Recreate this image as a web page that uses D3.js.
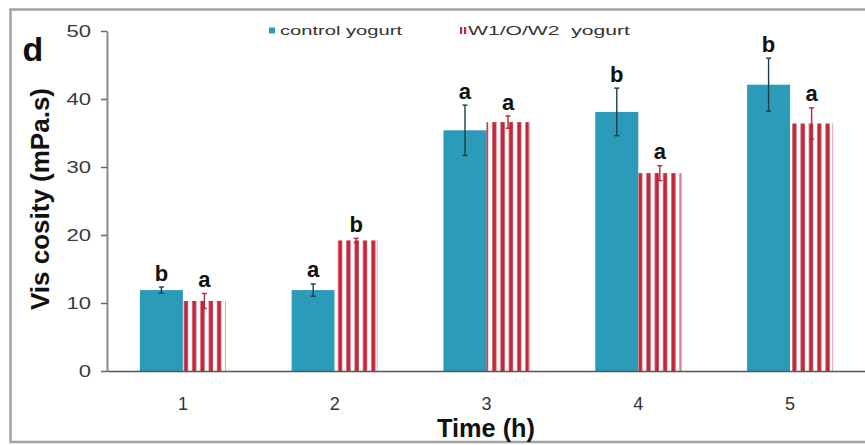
<!DOCTYPE html>
<html>
<head>
<meta charset="utf-8">
<script src="https://cdn.jsdelivr.net/npm/d3@7"></script>
<style>
  html, body { margin: 0; padding: 0; background: #fff; }
  svg { display: block; font-family: "Liberation Sans", Arial, sans-serif; }
</style>
</head>
<body>
<svg id="chart" width="865" height="445"></svg>
<script>
// ---- data ----
const categories = ["1", "2", "3", "4", "5"];
const seriesNames = ["control yogurt", "W1/O/W2  yogurt"];
const controlValues = [11.9, 11.9, 35.4, 38.1, 42.1];
const controlErrors = [0.45, 0.9, 3.7, 3.5, 3.9];
const w1ow2Values = [10.3, 19.2, 36.6, 29.1, 36.4];
const w1ow2Errors = [1.1, 0.3, 0.9, 1.1, 2.3];
const controlLetters = ["b", "a", "a", "b", "b"];
const w1ow2Letters = ["a", "b", "a", "a", "a"];
const yTicks = [0, 10, 20, 30, 40, 50];
const yLabel = "Vis cosity (mPa.s)";
const xLabel = "Time (h)";
const panelLabel = "d";

const TEAL = "#2b9bb9";
const RED = "#c1283b";

const svg = d3.select("#chart");

// frame
svg.append("path")
  .attr("d", "M866,9.5H10.5V442H866")
  .attr("fill", "none").attr("stroke", "#a3a3a3").attr("stroke-width", 2.5);

const x = d3.scaleBand().domain(categories).range([107, 866])
  .paddingInner(0.433).paddingOuter(0.2165);
const xs = d3.scaleBand().domain([0, 1]).range([0, x.bandwidth()]);
const y = d3.scaleLinear().domain([0, 50]).range([371, 31]);

const rows = categories.map((c, i) => ({
  cat: c, i,
  bars: [
    { s: 0, v: controlValues[i], e: controlErrors[i], l: controlLetters[i] },
    { s: 1, v: w1ow2Values[i], e: w1ow2Errors[i], l: w1ow2Letters[i] }
  ]
}));

// patterns for striped bars
const defs = svg.append("defs");
rows.forEach(r => {
  const bx = x(r.cat) + xs(1);
  const p = defs.append("pattern")
    .attr("id", "stripe" + r.i)
    .attr("patternUnits", "userSpaceOnUse")
    .attr("x", bx).attr("y", 0)
    .attr("width", 8.3).attr("height", 445);
  p.append("rect").attr("width", 8.3).attr("height", 445).attr("fill", "#fff");
  p.append("rect").attr("x", 2.2).attr("width", 4.1).attr("height", 445).attr("fill", RED);
});

// y axis
const yAxis = svg.append("g")
  .attr("transform", "translate(107,0)")
  .call(d3.axisLeft(y).tickValues(yTicks).tickSize(6).tickPadding(10).tickSizeOuter(0));
yAxis.select(".domain").attr("stroke", "#8a8a8a").attr("stroke-width", 2);
yAxis.selectAll(".tick line").attr("stroke", "#666").attr("stroke-width", 1.5);
yAxis.selectAll(".tick text")
  .attr("font-size", 16).attr("fill", "#3a3a3a")
  .attr("font-family", "Liberation Sans, Arial, sans-serif")
  .each(function () {
    const t = d3.select(this);
    t.attr("lengthAdjust", "spacingAndGlyphs")
     .attr("textLength", this.getComputedTextLength() * 1.38);
  });

// bars
const groups = svg.append("g").selectAll("g").data(rows).join("g")
  .attr("transform", d => `translate(${x(d.cat)},0)`);

groups.selectAll("rect.bar").data(d => d.bars.map(b => ({ ...b, i: d.i }))).join("rect")
  .attr("class", "bar")
  .attr("x", b => xs(b.s))
  .attr("width", xs.bandwidth())
  .attr("y", b => y(b.v))
  .attr("height", b => y(0) - y(b.v))
  .attr("fill", b => b.s === 0 ? TEAL : `url(#stripe${b.i})`);

// faint outline on striped bars
groups.selectAll("line.edge").data(d => d.bars.filter(b => b.s === 1)).join("line")
  .attr("class", "edge")
  .attr("x1", b => xs(b.s) + xs.bandwidth() - 0.5).attr("x2", b => xs(b.s) + xs.bandwidth() - 0.5)
  .attr("y1", b => y(b.v)).attr("y2", y(0))
  .attr("stroke", "#e9a9b2").attr("stroke-width", 1);

// error bars
const eb = groups.selectAll("g.err").data(d => d.bars).join("g").attr("class", "err")
  .attr("stroke", b => b.s === 0 ? "#1e3c4a" : "#b3283c")
  .attr("stroke-width", 1.4);
eb.append("line")
  .attr("x1", b => xs(b.s) + xs.bandwidth() / 2).attr("x2", b => xs(b.s) + xs.bandwidth() / 2)
  .attr("y1", b => y(b.v - b.e)).attr("y2", b => y(b.v + b.e));
eb.append("line")
  .attr("x1", b => xs(b.s) + xs.bandwidth() / 2 - 2.5).attr("x2", b => xs(b.s) + xs.bandwidth() / 2 + 2.5)
  .attr("y1", b => y(b.v + b.e)).attr("y2", b => y(b.v + b.e));
eb.append("line")
  .attr("x1", b => xs(b.s) + xs.bandwidth() / 2 - 2.5).attr("x2", b => xs(b.s) + xs.bandwidth() / 2 + 2.5)
  .attr("y1", b => y(b.v - b.e)).attr("y2", b => y(b.v - b.e));

// letters
groups.selectAll("text.letter").data(d => d.bars).join("text")
  .attr("class", "letter")
  .attr("x", b => xs(b.s) + xs.bandwidth() / 2)
  .attr("y", b => y(b.v + b.e) - 6.5)
  .attr("text-anchor", "middle")
  .attr("font-size", 22).attr("font-weight", "bold").attr("fill", "#111")
  .text(b => b.l);

// x axis
const xAxis = svg.append("g")
  .attr("transform", "translate(0,371)")
  .call(d3.axisBottom(x).tickSize(0).tickPadding(26));
xAxis.select(".domain").attr("stroke", "#555").attr("stroke-width", 1.6);
xAxis.selectAll(".tick text")
  .attr("font-size", 18).attr("fill", "#333")
  .attr("font-family", "Liberation Sans, Arial, sans-serif");

// axis titles
svg.append("text")
  .attr("transform", "translate(49,199) rotate(-90)")
  .attr("text-anchor", "middle")
  .attr("font-size", 26).attr("font-weight", "bold").attr("fill", "#111")
  .attr("textLength", 222).attr("lengthAdjust", "spacingAndGlyphs")
  .text(yLabel);

svg.append("text")
  .attr("x", 486).attr("y", 436.5)
  .attr("text-anchor", "middle")
  .attr("font-size", 25).attr("font-weight", "bold").attr("fill", "#111")
  .attr("textLength", 98).attr("lengthAdjust", "spacingAndGlyphs")
  .text(xLabel);

// panel label
svg.append("text")
  .attr("x", 22.5).attr("y", 61)
  .attr("font-size", 34).attr("font-weight", "bold").attr("fill", "#111")
  .text(panelLabel);

// legend
const legend = svg.append("g");
legend.append("rect").attr("x", 269).attr("y", 27.5).attr("width", 6).attr("height", 6).attr("fill", TEAL);
legend.append("text")
  .attr("x", 280).attr("y", 34.5)
  .attr("font-size", 13).attr("fill", "#333")
  .attr("textLength", 122).attr("lengthAdjust", "spacingAndGlyphs")
  .text(seriesNames[0]);
legend.append("rect").attr("x", 460).attr("y", 27).attr("width", 2.2).attr("height", 7).attr("fill", RED);
legend.append("rect").attr("x", 464).attr("y", 27).attr("width", 2.2).attr("height", 7).attr("fill", RED);
legend.append("text")
  .attr("x", 468).attr("y", 34.5)
  .attr("font-size", 13).attr("fill", "#333")
  .style("white-space", "pre")
  .attr("textLength", 162).attr("lengthAdjust", "spacingAndGlyphs")
  .text(seriesNames[1]);
</script>
</body>
</html>
